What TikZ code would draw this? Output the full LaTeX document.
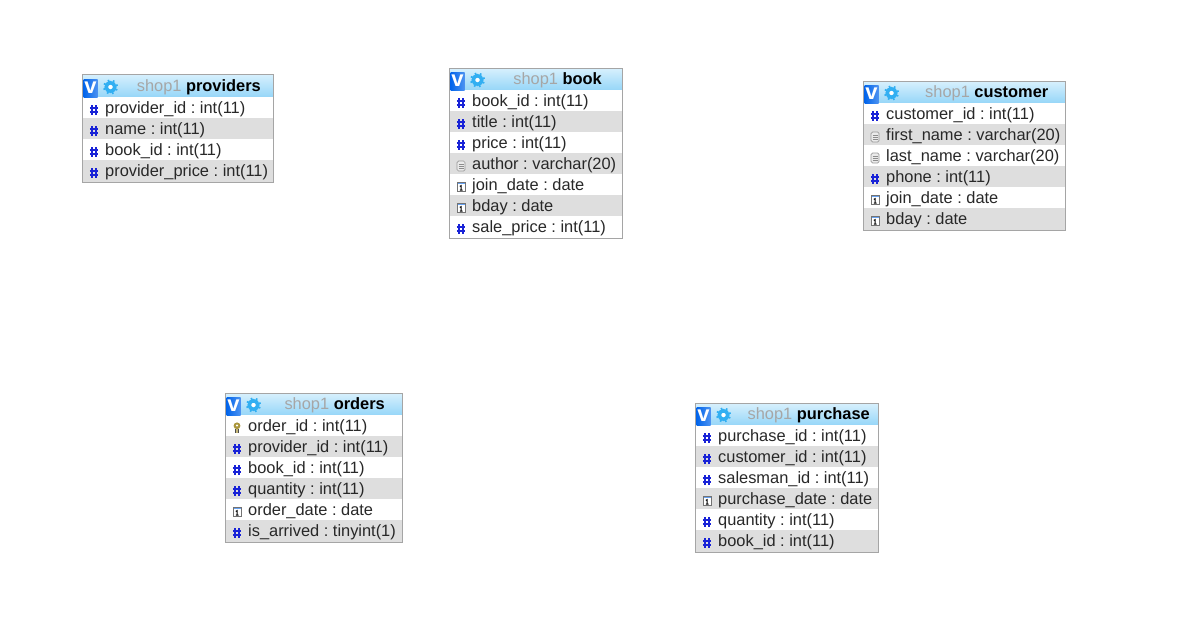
\documentclass[tikz,border=0pt]{standalone}
\usepackage{fontspec}
\setmainfont{Liberation Sans}
\usetikzlibrary{positioning,calc}
\definecolor{FrameGray}{RGB}{165,165,165}
\definecolor{RowGray}{RGB}{222,222,222}
\definecolor{HeadTop}{RGB}{215,240,253}
\definecolor{HeadBottom}{RGB}{150,214,248}
\definecolor{GearBlue}{RGB}{50,175,242}
\definecolor{ButtonBlue}{RGB}{0,100,235}
\definecolor{HashBlue}{RGB}{25,35,215}
\definecolor{TextInk}{RGB}{40,40,40}
\definecolor{KeyGold}{RGB}{170,150,60}
\tikzset{
  frame/.style={draw=FrameGray,line width=1pt,inner sep=0pt,outer sep=0pt,anchor=north west},
  headrow/.style={top color=HeadTop,bottom color=HeadBottom,inner sep=0pt,anchor=north west},
  whiterow/.style={fill=white,inner sep=0pt,anchor=north west},
  grayrow/.style={fill=RowGray,inner sep=0pt,anchor=north west},
  lab/.style={font=\fontsize{16.4}{19}\selectfont,text=TextInk,inner sep=0pt,anchor=base west},
  title/.style={font=\fontsize{16.4}{19}\selectfont,inner sep=0pt,anchor=base east},
  vbutton/.style={left color=ButtonBlue,right color=ButtonBlue!70!white,inner sep=0pt,text=white,
    font=\fontsize{22}{22}\selectfont\bfseries,minimum width=14pt,minimum height=18pt},
  gear/.style={circle,fill=white,draw=GearBlue,line width=3.5pt,minimum size=8.5pt,inner sep=0pt,
    preaction={draw=GearBlue,line width=7pt,dash pattern=on 1.7pt off 1.64pt}},
  icon/.style={inner sep=0pt,minimum width=10pt,minimum height=12pt},
  hash/.style={icon,path picture={
    \begin{scope}[shift={(path picture bounding box.center)},draw=HashBlue,line width=1.5pt]
      \draw (-1.9,-5)--(-1.9,5) (2.1,-5)--(2.1,5) (-4.2,-1.8)--(4.2,-1.8) (-4.2,2)--(4.2,2);
    \end{scope}}},
  textdoc/.style={icon,minimum width=8pt,minimum height=10pt,fill=black!8,draw=black!40,
    line width=.7pt,rounded corners=1.5pt,path picture={
    \begin{scope}[shift={(path picture bounding box.center)},draw=black!45,line width=.7pt]
      \draw (-2.5,-2)--(2.5,-2) (-2.5,0)--(2.5,0) (-2.5,2)--(2.5,2);
    \end{scope}}},
  datecard/.style={icon,minimum width=8pt,minimum height=9pt,fill=white,draw=black!55,
    line width=.7pt,path picture={
    \begin{scope}[shift={(path picture bounding box.center)}]
      \fill[ButtonBlue!60!white] (-5,-6) rectangle (5,-2.6);
      \draw[black,line width=1pt] (-1.2,-.6)--(.2,-1.4)--(.2,3) (-1.2,3)--(1.6,3);
    \end{scope}}},
  goldkey/.style={icon,minimum width=8pt,minimum height=11pt,path picture={
    \begin{scope}[shift={(path picture bounding box.center)}]
      \fill[KeyGold] (0,-2.2) circle[radius=3.4];
      \fill[white] (0,-2.6) circle[radius=1.1];
      \fill[black!70] (-1.8,.5) rectangle (2,5);
      \fill[KeyGold!70!white] (-.7,.5) rectangle (.8,5);
    \end{scope}}},
}
% name, left, first row top, head height, width, number of rows, title right end, title, rows
\newcommand{\dbtable}[9]{
  \pgfmathsetmacro{\toprow}{#3-#4}
  \pgfmathsetmacro{\tallness}{#4+21*#6+1}
  \node[headrow,minimum width=#5 pt,minimum height=#4 pt] (#1-head) at (#2,\toprow) {};
  \foreach \ic/\txt/\rowstyle [count=\i] in {#9} {
    \node[\rowstyle,minimum width=#5 pt,minimum height=22pt] (#1-row\i) at ({#2},{#3+21*(\i-1)}) {};
    \node[lab] (#1-lab\i) at ({#2+23},{#3+21*(\i-1)+16}) {\txt};
    \node[\ic] (#1-icon\i) at ({#2+12},{#3+21*(\i-1)+13}) {};
  }
  \node[vbutton] (#1-v) at ({#2+8.5},{#3-9}) {v};
  \node[gear] (#1-gear) at ({#2+28.5},{#3-10}) {};
  \node[title] (#1-title) at ({#2+#7},{#3-6}) {\textcolor{black!35}{shop1} \textbf{#8}};
  \node[frame,minimum width=#5 pt,minimum height=\tallness pt] (#1) at (#2+.5,\toprow+.5) {};
}
\begin{document}
\frenchspacing
\begin{tikzpicture}[x=1pt,y=-1pt]
\useasboundingbox (0,0) rectangle (1202,632);
\dbtable{providers}{82}{97}{23}{191}{4}{179}{providers}{
  hash/provider\_id : int(11)/whiterow,
  hash/name : int(11)/grayrow,
  hash/book\_id : int(11)/whiterow,
  hash/provider\_price : int(11)/grayrow}
\dbtable{book}{449}{90}{22}{172.5}{7}{153}{book}{
  hash/book\_id : int(11)/whiterow,
  hash/title : int(11)/grayrow,
  hash/price : int(11)/whiterow,
  textdoc/author : varchar(20)/grayrow,
  datecard/join\_date : date/whiterow,
  datecard/bday : date/grayrow,
  hash/sale\_price : int(11)/whiterow}
\dbtable{customer}{863}{103}{22}{202}{6}{185.5}{customer}{
  hash/customer\_id : int(11)/whiterow,
  textdoc/first\_name : varchar(20)/grayrow,
  textdoc/last\_name : varchar(20)/whiterow,
  hash/phone : int(11)/grayrow,
  datecard/join\_date : date/whiterow,
  datecard/bday : date/grayrow}
\dbtable{orders}{225}{415}{22}{177}{6}{160}{orders}{
  goldkey/order\_id : int(11)/whiterow,
  hash/provider\_id : int(11)/grayrow,
  hash/book\_id : int(11)/whiterow,
  hash/quantity : int(11)/grayrow,
  datecard/order\_date : date/whiterow,
  hash/is\_arrived : tinyint(1)/grayrow}
\dbtable{purchase}{695}{425}{22}{183}{6}{175}{purchase}{
  hash/purchase\_id : int(11)/whiterow,
  hash/customer\_id : int(11)/grayrow,
  hash/salesman\_id : int(11)/whiterow,
  datecard/purchase\_date : date/grayrow,
  hash/quantity : int(11)/whiterow,
  hash/book\_id : int(11)/grayrow}
\end{tikzpicture}
\end{document}
